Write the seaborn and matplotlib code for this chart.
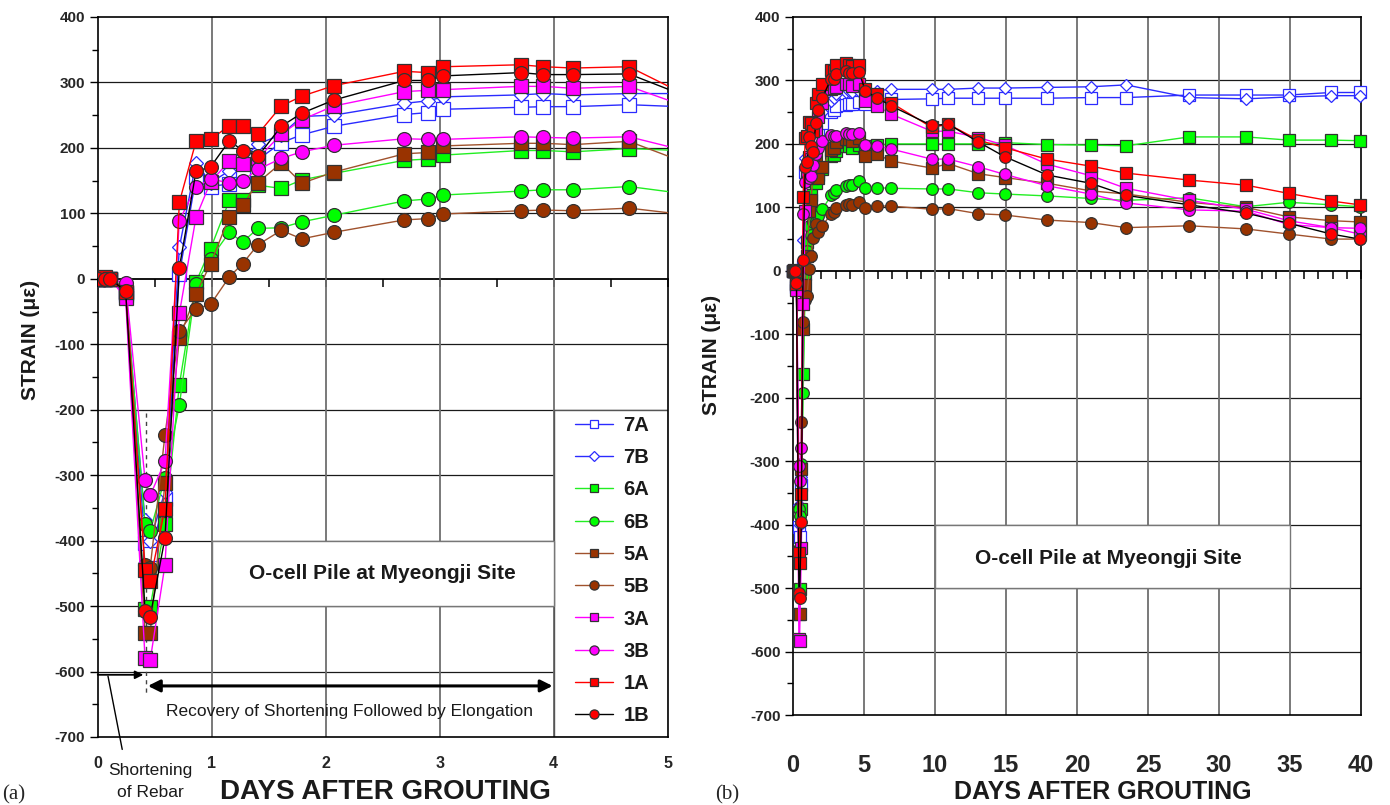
import matplotlib
matplotlib.use("Agg")
import matplotlib.pyplot as plt
import seaborn as sns
from matplotlib.patches import Rectangle
from matplotlib.ticker import MultipleLocator, FixedLocator

# ---------------------------------------------------------------- data
days = [0.0, 0.06, 0.11, 0.245, 0.415, 0.46, 0.59, 0.716, 0.862, 0.99,
        1.155, 1.27, 1.405, 1.61, 1.79, 2.07, 2.69, 2.90, 3.03, 3.71,
        3.91, 4.17, 4.66, 5.1, 5.9, 6.9, 9.77, 10.95, 13.05, 14.9,
        17.9, 20.96, 23.45, 27.9, 31.9, 34.9, 37.9, 39.9]

gauges = ["7A", "7B", "6A", "6B", "5A", "5B", "3A", "3B", "1A", "1B"]

strain_7A = [0, 0, 0, -25, -403, -420, -337, 7, 155, 141,
             145, 161, 182, 208, 220, 233, 251, 254, 259, 262,
             263, 263, 266, 263, 266, 270, 271, 272, 272, 272,
             272, 273, 273, 277, 277, 277, 281, 281]
strain_7B = [0, 0, 0, -22, -369, -400, -325, 48, 177, 147,
             165, 182, 206, 220, 248, 250, 268, 272, 278, 281,
             283, 281, 283, 283, 284, 286, 286, 286, 288, 288,
             289, 290, 293, 273, 271, 274, 276, 276]
strain_6A = [0, 0, 0, -20, -505, -502, -375, -162, -5, 46,
             120, 120, 143, 138, 151, 161, 181, 183, 189, 196,
             196, 194, 199, 196, 198, 200, 200, 200, 200, 202,
             199, 198, 197, 211, 211, 206, 206, 205]
strain_6B = [0, 0, 0, -18, -375, -386, -304, -193, -8, 31,
             71, 56, 77, 78, 87, 97, 119, 122, 128, 134,
             136, 136, 141, 131, 131, 130, 129, 129, 123, 121,
             118, 114, 111, 115, 101, 108, 104, 101]
strain_5A = [0, 0, 0, -22, -541, -541, -312, -91, -23, 23,
             95, 112, 147, 177, 146, 163, 191, 193, 203, 207,
             207, 205, 210, 181, 184, 173, 162, 169, 153, 147,
             138, 126, 121, 108, 100, 85, 79, 77]
strain_5B = [0, 0, 0, -15, -438, -442, -238, -80, -46, -39,
             3, 23, 52, 74, 61, 71, 90, 92, 99, 104,
             105, 104, 108, 99, 102, 102, 97, 98, 90, 88,
             80, 76, 68, 71, 66, 58, 50, 50]
strain_3A = [0, 0, 0, -30, -580, -583, -437, -53, 94, 148,
             180, 176, 184, 221, 243, 264, 286, 288, 289, 294,
             294, 291, 294, 267, 260, 247, 220, 220, 210, 198,
             168, 150, 130, 111, 97, 79, 68, 58]
strain_3B = [0, 0, 0, -7, -307, -331, -279, 89, 140, 153,
             146, 150, 167, 184, 194, 204, 214, 213, 213, 217,
             216, 215, 217, 198, 197, 192, 176, 176, 164, 152,
             134, 121, 107, 96, 94, 73, 68, 67]
strain_1A = [0, 2, 0, -20, -445, -461, -351, 117, 210, 213,
             234, 233, 221, 264, 279, 295, 317, 315, 324, 327,
             324, 322, 324, 286, 278, 265, 226, 231, 206, 194,
             176, 165, 154, 143, 135, 122, 110, 104]
strain_1B = [0, 0, 0, -19, -507, -516, -396, 17, 164, 171,
             211, 196, 187, 233, 253, 273, 303, 303, 310, 315,
             312, 312, 313, 283, 273, 260, 229, 231, 203, 180,
             151, 138, 119, 104, 91, 75, 58, 50]

series = {"7A": strain_7A, "7B": strain_7B, "6A": strain_6A, "6B": strain_6B,
          "5A": strain_5A, "5B": strain_5B, "3A": strain_3A, "3B": strain_3B,
          "1A": strain_1A, "1B": strain_1B}

y_ticks = list(range(-700, 401, 100))
left_x_ticks = [0, 1, 2, 3, 4, 5]
right_x_ticks = [0, 5, 10, 15, 20, 25, 30, 35, 40]

# ---------------------------------------------------------------- styles
BLUE, GREEN, BROWN, MAGENTA, RED = "#2b2bff", "#00ff00", "#993300", "#ff00ff", "#ff0000"
EDGE = "#333333"
STYLE = {
    "7A": dict(marker="s", face="white", edge=BLUE, line=BLUE, scale=1.0),
    "7B": dict(marker="D", face="white", edge=BLUE, line=BLUE, scale=0.8),
    "6A": dict(marker="s", face=GREEN, edge=EDGE, line="#22ee22", scale=1.0),
    "6B": dict(marker="o", face=GREEN, edge=EDGE, line="#22ee22", scale=1.05),
    "5A": dict(marker="s", face=BROWN, edge=EDGE, line="#a0522d", scale=1.0),
    "5B": dict(marker="o", face=BROWN, edge=EDGE, line="#a0522d", scale=1.05),
    "3A": dict(marker="s", face=MAGENTA, edge=EDGE, line=MAGENTA, scale=1.0),
    "3B": dict(marker="o", face=MAGENTA, edge=EDGE, line=MAGENTA, scale=1.05),
    "1A": dict(marker="s", face=RED, edge=EDGE, line=RED, scale=1.0),
    "1B": dict(marker="o", face=RED, edge=EDGE, line="black", scale=1.05),
}

sns.set_theme(style="white")
plt.rcParams["font.family"] = ["Liberation Sans", "DejaVu Sans"]
NARROW = ["Liberation Sans Narrow", "DejaVu Sans Condensed", "Liberation Sans"]

fig = plt.figure(figsize=(13.9, 8.05), dpi=100)
ax_a = fig.add_axes([0.0703, 0.0845, 0.4101, 0.8944])
ax_b = fig.add_axes([0.5705, 0.1118, 0.4086, 0.8671])


def draw_series(ax, msize, clip):
    handles = []
    for g in gauges:
        st = STYLE[g]
        sns.lineplot(x=days, y=series[g], ax=ax, color=st["line"],
                     marker=st["marker"], markersize=msize * st["scale"],
                     markerfacecolor=st["face"], markeredgecolor=st["edge"],
                     markeredgewidth=0.9, linewidth=1.0, sort=False,
                     errorbar=None, legend=False, clip_on=clip, zorder=3)
        line = ax.get_lines()[-1]
        line.set_label(g)
        handles.append(line)
    return handles


def frame_axes(ax, xmax, xminor, xlabels_size, xpad):
    ax.set_xlim(0, xmax)
    ax.set_ylim(-700, 400)
    ax.set_axisbelow(True)
    for sp in ax.spines.values():
        sp.set_visible(True)
        sp.set_color("black")
        sp.set_linewidth(1.2)
    # y axis
    ax.yaxis.set_major_locator(FixedLocator(y_ticks))
    ax.yaxis.set_minor_locator(MultipleLocator(50))
    ax.set_yticklabels([str(v) for v in y_ticks], fontweight="bold", fontsize=11)
    ax.tick_params(axis="y", which="major", direction="out", length=6, width=1,
                   left=True, color="black", pad=3)
    ax.tick_params(axis="y", which="minor", direction="out", length=4, width=1,
                   left=True, color="black")
    # x labels sit at the bottom without tick marks
    ax.tick_params(axis="x", which="both", length=0, pad=xpad, bottom=False)
    for lab in ax.get_xticklabels():
        lab.set_family(NARROW)
        lab.set_fontweight("bold")
        lab.set_fontsize(xlabels_size)
    # grid
    ax.grid(False)
    for v in y_ticks[1:-1]:
        if v != 0:
            ax.axhline(v, color="#1a1a1a", lw=0.9, zorder=0.6)
    # axis line at zero strain carrying the day ticks
    sec = ax.secondary_xaxis(700 / 1100)
    sec.set_alignment("bottom")
    sec.xaxis.set_major_locator(FixedLocator(list(ax.get_xticks())))
    sec.xaxis.set_minor_locator(MultipleLocator(xminor))
    sec.tick_params(axis="x", which="both", direction="out", length=6, width=1.1,
                    labelbottom=False, labeltop=False, color="black")
    sec.spines["bottom"].set_linewidth(1.3)
    sec.spines["bottom"].set_color("black")


# ---------------------------------------------------------------- panel (a)
handles = draw_series(ax_a, 9.5, True)
ax_a.set_xticks(left_x_ticks)
ax_a.set_xticklabels([str(v) for v in left_x_ticks])
frame_axes(ax_a, 5, 0.5, 11.5, 14)
for x in left_x_ticks[1:-1]:
    ax_a.axvline(x, color="#6e6e6e", lw=1.3, zorder=0.6)
ax_a.set_xlabel("")
ax_a.set_ylabel("")

ax_a.add_patch(Rectangle((4, -700), 1, 500, facecolor="white", edgecolor="#555555",
                         lw=1.0, zorder=1.5))
ax_a.add_patch(Rectangle((1, -500), 3, 100, facecolor="white", edgecolor="#777777",
                         lw=1.0, zorder=1.5))
ax_a.text(2.5, -451, "O-cell Pile at Myeongji Site", ha="center", va="center",
          fontsize=15, fontweight="bold", color="#1a1a1a", zorder=4)

leg = ax_a.legend(handles=handles, loc="upper left", bbox_to_anchor=(0.827, 0.4545),
                  frameon=False, borderaxespad=0, borderpad=0.3, handlelength=1.9,
                  handletextpad=0.5, labelspacing=0.66, markerscale=0.66,
                  prop=dict(weight="bold", size=14.5))
for t in leg.get_texts():
    t.set_color("#1a1a1a")

# annotations on panel (a)
ax_a.plot([0.42, 0.42], [-205, -635], ls=(0, (3, 3)), color="#444444", lw=1.0, zorder=2)
ax_a.annotate("", xy=(0.40, -605), xytext=(0.0, -605),
              arrowprops=dict(arrowstyle="-|>", color="black", lw=1.3,
                              mutation_scale=12, shrinkA=0, shrinkB=0))
ax_a.annotate("", xy=(3.99, -622), xytext=(0.44, -622),
              arrowprops=dict(arrowstyle="<|-|>", color="black", lw=2.2,
                              mutation_scale=18, shrinkA=0, shrinkB=0))
ax_a.text(2.21, -661, "Recovery of Shortening Followed by Elongation", ha="center",
          va="center", fontsize=12.5, family=NARROW, color="#1a1a1a", zorder=4)
ax_a.plot([0.09, 0.215], [-607, -719], color="black", lw=1.0, clip_on=False)
ax_a.text(0.46, -768, "Shortening\nof Rebar", ha="center", va="center", fontsize=12.5,
          family=NARROW, color="#1a1a1a", linespacing=1.55, clip_on=False)

# ---------------------------------------------------------------- panel (b)
draw_series(ax_b, 8, False)
ax_b.set_xticks(right_x_ticks)
ax_b.set_xticklabels([str(v) for v in right_x_ticks])
frame_axes(ax_b, 40, 1, 17, 28)
for x in right_x_ticks[1:-1]:
    ax_b.axvline(x, color="#6e6e6e", lw=1.3, zorder=0.6)
ax_b.set_xlabel("")
ax_b.set_ylabel("")
ax_b.add_patch(Rectangle((10, -500), 25, 100, facecolor="white", edgecolor="#777777",
                         lw=1.0, zorder=1.5))
ax_b.text(22.2, -453, "O-cell Pile at Myeongji Site", ha="center", va="center",
          fontsize=15, fontweight="bold", color="#1a1a1a", zorder=4)

# ---------------------------------------------------------------- figure text
fig.text(0.0216, 0.578, "STRAIN (\u03bc\u03b5)", rotation=90, ha="center", va="center",
         fontsize=15, fontweight="bold", color="#1a1a1a")
fig.text(0.512, 0.559, "STRAIN (\u03bc\u03b5)", rotation=90, ha="center", va="center",
         fontsize=15, fontweight="bold", color="#1a1a1a")
fig.text(0.277, 0.016, "DAYS AFTER GROUTING", ha="center", va="center", fontsize=20,
         fontweight="bold", family=NARROW, color="#1a1a1a")
fig.text(0.7935, 0.016, "DAYS AFTER GROUTING", ha="center", va="center", fontsize=18,
         fontweight="bold", family=NARROW, color="#1a1a1a")
fig.text(0.010, 0.0125, "(a)", ha="center", va="center", fontsize=15,
         family=["Liberation Serif", "DejaVu Serif"])
fig.text(0.5235, 0.0125, "(b)", ha="center", va="center", fontsize=15,
         family=["Liberation Serif", "DejaVu Serif"])

fig.savefig("out.png", dpi=100, facecolor="white")
